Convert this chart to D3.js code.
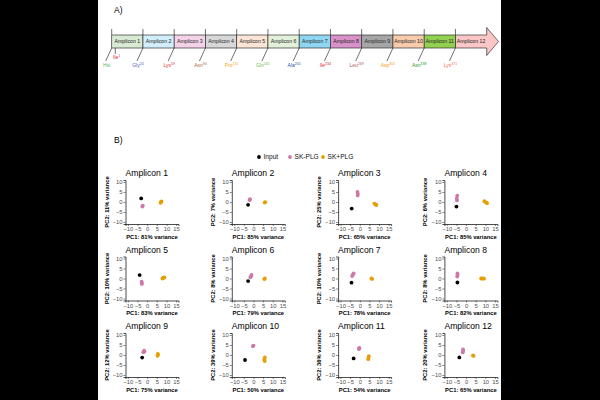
<!DOCTYPE html>
<html>
<head>
<meta charset="utf-8">
<script src="https://cdn.jsdelivr.net/npm/d3@7"></script>
<style>
body { margin: 0; background: #000; }
text { font-family: "Liberation Sans", Arial, sans-serif; }
</style>
</head>
<body>
<svg id="chart" width="600" height="400"></svg>
<script>
// ---- panel A data ----
var ampliconNames = ['Amplicon 1', 'Amplicon 2', 'Amplicon 3', 'Amplicon 4', 'Amplicon 5', 'Amplicon 6',
    'Amplicon 7', 'Amplicon 8', 'Amplicon 9', 'Amplicon 10', 'Amplicon 11', 'Amplicon 12'];
var residueNames = ['His', 'Gly', 'Lys', 'Asn', 'Pro', 'Gln', 'Ala', 'Ile', 'Leu', 'Asp', 'Asn', 'Lys'];
var residueNumbers = ['', '24', '59', '94', '131', '165', '201', '234', '269', '305', '338', '371'];
var startResidue = {name: 'Ile', number: '1'};

// ---- panel B data ----
var groups = ['Input', 'SK-PLG', 'SK+PLG'];
var pc1Variance = [81, 85, 65, 85, 83, 79, 78, 82, 75, 50, 54, 65];
var pc2Variance = [11, 7, 25, 6, 10, 8, 10, 8, 12, 39, 36, 20];
var xTicks = [-10, -5, 0, 5, 10, 15];
var yTicks = [-10, -5, 0, 5, 10];

var inputPoints = [
    [[-3.1, 1.8]], [[-2.8, -1.4]], [[-4.2, -3.3]], [[-5.0, -2.3]],
    [[-3.9, 1.7]], [[-2.8, -1.3]], [[-4.3, -2.1]], [[-4.5, -2.0]],
    [[-2.6, -1.3]], [[-4.4, -2.5]], [[-3.2, -1.7]], [[-3.5, -1.2]]
];
var skMinusPoints = [
    [[-2.5, -2.3], [-2.3, -1.8]],
    [[-2.0, 1.0], [-1.8, 1.4]],
    [[-1.2, 5.0], [-1.0, 4.1], [-1.1, 3.3]],
    [[-4.6, 3.2], [-4.8, 1.8], [-4.7, 0.8]],
    [[-2.9, -1.6], [-2.7, -2.3], [-2.8, -2.7]],
    [[-1.6, 0.6], [-1.2, 1.3], [-1.0, 1.8]],
    [[-4.0, 1.2], [-3.6, 1.9], [-3.2, 2.5]],
    [[-4.6, 1.0], [-4.4, 1.8], [-4.5, 2.5]],
    [[-2.0, 1.4], [-1.6, 2.2], [-1.4, 1.7]],
    [[-0.3, 4.4], [0.0, 4.7]],
    [[-0.5, 3.0], [-0.2, 3.6], [-0.3, 3.3]],
    [[-1.7, 1.3], [-1.5, 2.1], [-1.6, 2.8]]
];
var skPlusPoints = [
    [[6.9, -0.4], [7.4, 0.3], [7.2, 0.0]],
    [[5.8, -0.3], [6.1, -0.1]],
    [[7.6, -0.8], [8.2, -1.3], [8.6, -1.5]],
    [[9.5, 0.4], [10.3, -0.2], [10.9, -0.6]],
    [[7.9, 0.0], [8.4, 0.4], [8.9, 0.5]],
    [[5.6, -0.3], [5.9, 0.0]],
    [[6.0, 0.0], [6.4, -0.2]],
    [[7.8, 0.0], [8.6, 0.0], [9.3, -0.1]],
    [[5.4, -0.4], [5.6, 0.2], [5.5, 0.5]],
    [[5.9, -1.2], [5.6, -2.3], [5.8, -3.0]],
    [[4.7, -0.6], [4.5, -1.4], [4.4, -2.1]],
    [[3.6, -0.2], [3.9, -0.4]]
];

// ---- styles ----
var boxColors = ['#d9ead3', '#d3eefb', '#f4d2e8', '#d8d8d8', '#fce5d6', '#e3f0da',
    '#8fd6f2', '#d891c9', '#a6a6a6', '#f8cbad', '#92d050', '#fac6c6'];
var residueColors = ['#5cb85c', '#4a5fc1', '#e0303a', '#b5654a', '#f4a62a', '#6cc04a',
    '#3050b0', '#e0202a', '#a06050', '#f0a010', '#20a030', '#f07050'];
var groupColors = ['#000000', '#cc79a7', '#e69f00'];

var svg = d3.select('#chart');

svg.append('rect').attr('x', 98).attr('y', 0).attr('width', 403).attr('height', 400).attr('fill', '#fff');

var drawPanelA = function () {
    svg.append('text').attr('x', 114).attr('y', 13).attr('font-size', 8.5).text('A)');

    var boxX = d3.scaleLinear().domain([0, ampliconNames.length]).range([111.7, 486.7]);
    var top = 35, bottom = 48;
    var g = svg.append('g').attr('class', 'map');

    // arrow body for the last amplicon
    var last = ampliconNames.length - 1;
    var end = boxX(ampliconNames.length);
    g.append('path')
        .attr('d', 'M' + boxX(last) + ',' + top + 'L' + end + ',' + top + 'L' + end + ',27.5L498.5,41.5L' +
            end + ',55.5L' + end + ',' + bottom + 'L' + boxX(last) + ',' + bottom + 'Z')
        .attr('fill', boxColors[last]).attr('stroke', '#333').attr('stroke-width', 0.7);

    g.selectAll('rect.amp')
        .data(ampliconNames.slice(0, last))
        .enter()
        .append('rect')
        .attr('class', 'amp')
        .attr('x', function (d, i) { return boxX(i); })
        .attr('y', top)
        .attr('width', function (d, i) { return boxX(i + 1) - boxX(i); })
        .attr('height', bottom - top)
        .attr('fill', function (d, i) { return boxColors[i]; })
        .attr('stroke', '#333').attr('stroke-width', 0.7);

    g.selectAll('text.amp')
        .data(ampliconNames)
        .enter()
        .append('text')
        .attr('class', 'amp')
        .attr('x', function (d, i) { return (boxX(i) + boxX(i + 1)) / 2; })
        .attr('y', 43.3)
        .attr('text-anchor', 'middle')
        .attr('font-size', 5.2)
        .attr('fill', '#222')
        .text(function (d) { return d; });

    g.selectAll('line.tick')
        .data(ampliconNames)
        .enter()
        .append('line')
        .attr('x1', function (d, i) { return boxX(i); })
        .attr('x2', function (d, i) { return boxX(i); })
        .attr('y1', 29).attr('y2', top)
        .attr('stroke', '#333').attr('stroke-width', 0.7);

    g.selectAll('line.lead')
        .data(residueNames)
        .enter()
        .append('line')
        .attr('x1', function (d, i) { return boxX(i); })
        .attr('x2', function (d, i) { return boxX(i) - 6; })
        .attr('y1', bottom).attr('y2', 61)
        .attr('stroke', '#333').attr('stroke-width', 0.7);

    var labels = g.selectAll('text.res')
        .data(residueNames)
        .enter()
        .append('text')
        .attr('x', function (d, i) { return boxX(i) - 5; })
        .attr('y', 67)
        .attr('text-anchor', 'middle')
        .attr('font-size', 5)
        .attr('fill', function (d, i) { return residueColors[i]; });
    labels.append('tspan').text(function (d) { return d; });
    labels.append('tspan')
        .attr('dy', -2.2)
        .attr('font-size', 3.6)
        .text(function (d, i) { return residueNumbers[i]; });

    g.append('line')
        .attr('x1', boxX(0) + 3.6).attr('x2', boxX(0) + 3.6)
        .attr('y1', bottom).attr('y2', 54)
        .attr('stroke', '#333').attr('stroke-width', 0.7);
    var ile = g.append('text')
        .attr('x', boxX(0) + 5).attr('y', 59)
        .attr('text-anchor', 'middle')
        .attr('font-size', 5)
        .attr('fill', '#e0202a');
    ile.append('tspan').text(startResidue.name);
    ile.append('tspan').attr('dy', -2.2).attr('font-size', 3.6).text(startResidue.number);
};

var drawLegend = function () {
    var legendX = [259, 290, 323];
    var lg = svg.append('g').attr('class', 'legend');
    lg.selectAll('circle')
        .data(groups)
        .enter()
        .append('circle')
        .attr('cx', function (d, i) { return legendX[i]; })
        .attr('cy', 157)
        .attr('r', 1.9)
        .attr('fill', function (d, i) { return groupColors[i]; });
    lg.selectAll('text')
        .data(groups)
        .enter()
        .append('text')
        .attr('x', function (d, i) { return legendX[i] + 4.5; })
        .attr('y', 159.3)
        .attr('font-size', 6.6)
        .attr('fill', '#111')
        .text(function (d) { return d; });
};

var drawPca = function (i) {
    const WIDTH = 53;
    const HEIGHT = 44;
    var col = i % 4, row = Math.floor(i / 4);
    var g = svg.append('g')
        .attr('transform', 'translate(' + (125.5 + col * 106.3) + ',' + (180 + row * 76.5) + ')');

    var xScale = d3.scaleLinear().domain([-11.25, 16.25]).range([0, WIDTH]);
    var yScale = d3.scaleLinear().domain([-11, 11]).range([HEIGHT, 0]);

    var xAxis = g.append('g')
        .attr('transform', 'translate(0,' + HEIGHT + ')')
        .call(d3.axisBottom(xScale).tickValues(xTicks).tickSize(2).tickPadding(1));
    var yAxis = g.append('g')
        .call(d3.axisLeft(yScale).tickValues(yTicks).tickSize(2).tickPadding(1));
    [xAxis, yAxis].forEach(function (ax) {
        ax.select('.domain').attr('stroke', '#000').attr('stroke-width', 0.7);
        ax.selectAll('.tick line').attr('stroke', '#333').attr('stroke-width', 0.6);
        ax.selectAll('.tick text')
            .attr('font-size', 5.8)
            .attr('fill', '#4d4d4d')
            .attr('font-family', '"Liberation Sans", Arial, sans-serif');
    });

    g.append('text')
        .attr('x', 0).attr('y', -4)
        .attr('font-size', 8.6)
        .text(ampliconNames[i]);

    g.append('text')
        .attr('x', WIDTH / 2).attr('y', HEIGHT + 14.7)
        .attr('text-anchor', 'middle')
        .attr('font-size', 5.8)
        .attr('font-weight', 'bold')
        .text('PC1: ' + pc1Variance[i] + '% variance');

    g.append('text')
        .attr('transform', 'translate(-17,' + HEIGHT / 2 + ') rotate(-90)')
        .attr('text-anchor', 'middle')
        .attr('font-size', 5.8)
        .attr('font-weight', 'bold')
        .text('PC2: ' + pc2Variance[i] + '% variance');

    [inputPoints[i], skMinusPoints[i], skPlusPoints[i]].forEach(function (pts, k) {
        g.selectAll('circle.g' + k)
            .data(pts)
            .enter()
            .append('circle')
            .attr('class', 'g' + k)
            .attr('cx', function (d) { return xScale(d[0]); })
            .attr('cy', function (d) { return yScale(d[1]); })
            .attr('r', 1.9)
            .attr('fill', groupColors[k]);
    });
};

drawPanelA();
svg.append('text').attr('x', 114).attr('y', 143).attr('font-size', 8.5).text('B)');
drawLegend();
ampliconNames.forEach(function (d, i) { drawPca(i); });
</script>
</body>
</html>
